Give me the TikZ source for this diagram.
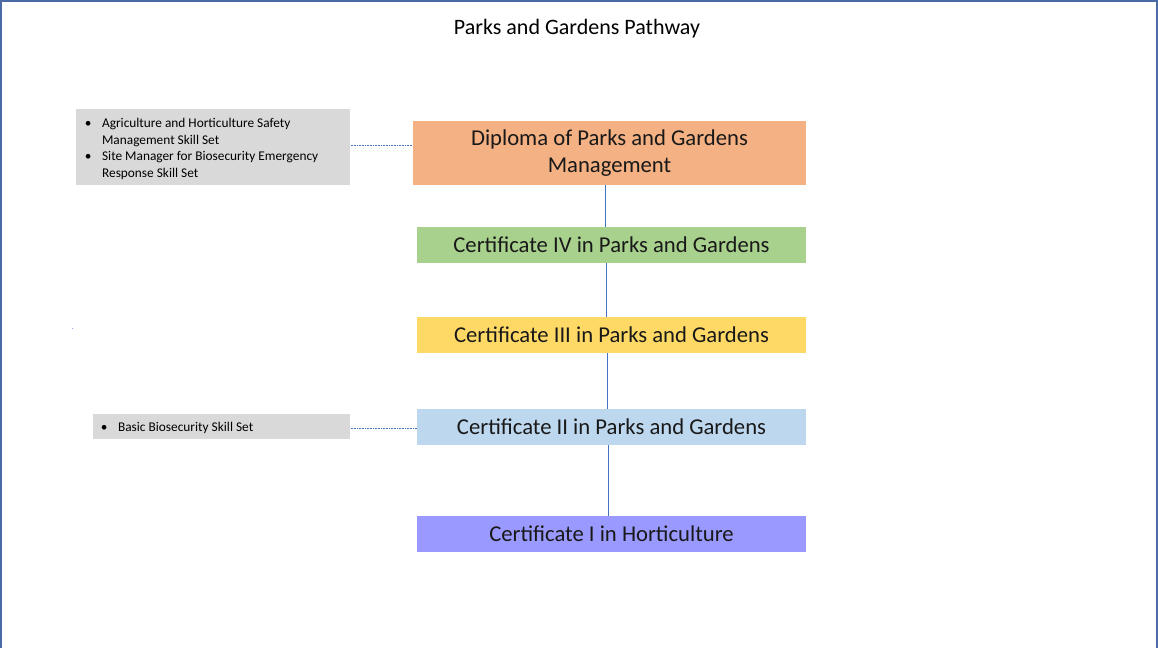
\documentclass[tikz,border=0pt]{standalone}
\usepackage{fontspec}
\setmainfont{Carlito}
\definecolor{frameblue}{HTML}{4A6BA5}
\definecolor{linkblue}{HTML}{4472C4}
\definecolor{dipcol}{HTML}{F4B183}
\definecolor{c4col}{HTML}{A9D18E}
\definecolor{c3col}{HTML}{FFD966}
\definecolor{c2col}{HTML}{BDD7EE}
\definecolor{c1col}{HTML}{9999FF}
\definecolor{graycol}{HTML}{D9D9D9}
\tikzset{
  qual/.style={fill=#1, draw=none, minimum width=291.75pt, minimum height=27pt, inner sep=0pt,
    font=\fontsize{17}{20.25}\selectfont, text=black!90, align=center},
  skillbox/.style={fill=graycol, draw=none, inner sep=0pt, anchor=north west},
  vlink/.style={draw=linkblue, line width=0.6pt},
  dlink/.style={draw=linkblue, line width=0.6pt, dash pattern=on 0.6pt off 0.6pt},
}
\begin{document}
\begin{tikzpicture}[x=0.75pt, y=-0.75pt]
\useasboundingbox (0,0) rectangle (1158,648);
\fill[white] (0,0) rectangle (1158,648);
\draw[frameblue, line width=1.1pt] (1.2,648) -- (1.2,1.2) -- (1156.8,1.2) -- (1156.8,648);

\node[font=\fontsize{16.5}{20}\selectfont] (title) at (577,28.5) {Parks and Gardens Pathway};

\node[qual=dipcol, minimum width=294.75pt, minimum height=48pt] (dip) at (609.5,153) {Diploma of Parks and Gardens\\Management};
\node[qual=c4col] (c4) at (611.5,245) {Certificate IV in Parks and Gardens};
\node[qual=c3col] (c3) at (611.5,335) {Certificate III in Parks and Gardens};
\node[qual=c2col] (c2) at (611.5,427) {Certificate II in Parks and Gardens};
\node[qual=c1col] (c1) at (611.5,534) {Certificate I in Horticulture};

\node[skillbox, minimum width=205.5pt, minimum height=57pt] (s1) at (76,109) {};
\node[anchor=north west, inner sep=0pt, font=\fontsize{10}{12.4}\selectfont] (s1t) at (84.5,116) {%
  \begin{tabular}{@{}p{13pt}@{}l@{}}
  \textbullet & Agriculture and Horticulture Safety\\
  & Management Skill Set\\
  \textbullet & Site Manager for Biosecurity Emergency\\
  & Response Skill Set
  \end{tabular}};

\node[skillbox, minimum width=192.75pt, minimum height=18.75pt] (s2) at (93,414) {};
\node[anchor=west, inner sep=0pt, font=\fontsize{10}{12.4}\selectfont] (s2t) at (100.5,428.5) {%
  \begin{tabular}{@{}p{13pt}@{}l@{}}
  \textbullet & Basic Biosecurity Skill Set
  \end{tabular}};

\fill[linkblue!60] (72,328.5) rectangle (72.8,329.3);

\draw[vlink] (dip.south -| 605,0) -- (c4.north -| 605,0);
\draw[vlink] (c4.south -| 606,0) -- (c3.north -| 606,0);
\draw[vlink] (c3.south -| 607,0) -- (c2.north -| 607,0);
\draw[vlink] (c2.south -| 608,0) -- (c1.north -| 608,0);

\draw[dlink] (s1.east |- 0,145) -- (dip.west |- 0,145);
\draw[dlink] (s2.east |- 0,428.5) -- (c2.west |- 0,428.5);
\end{tikzpicture}
\end{document}
